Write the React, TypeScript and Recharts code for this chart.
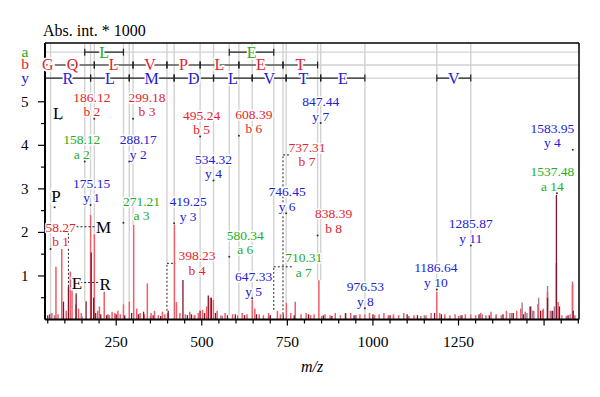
import React from "react";
import {
  ComposedChart,
  ErrorBar,
  ReferenceDot,
  ReferenceLine,
  Scatter,
  XAxis,
  YAxis,
} from "recharts";

const FONT = "'Liberation Serif', 'Times New Roman', serif";
const RED = "#e3232b";
const BLUE = "#2121d3";
const GREEN = "#22ad22";
const GRAY = "#d2d2d2";
const INK = "#222";

const X_MIN = 42;
const X_MAX = 1602;
const Y_MAX = 6.35;
const ROW_A = 6.14;
const ROW_B = 5.845;
const ROW_Y = 5.545;

const xTicks = [
  50, 100, 150, 200, 250, 300, 350, 400, 450, 500, 550, 600, 650, 700, 750, 800,
  850, 900, 950, 1000, 1050, 1100, 1150, 1200, 1250, 1300, 1350, 1400, 1450, 1500,
  1550, 1600,
];
const xTickLabels = [250, 500, 750, 1000, 1250];
const yTicks = [0.5, 1, 1.5, 2, 2.5, 3, 3.5, 4, 4.5, 5];
const yTickLabels = [1, 2, 3, 4, 5];

// spectrum peaks, [m/z, intensity * 1000]
const redPeaks: [number, number][] = [
  [62, 0.15], [74, 1.21], [80, 0.12], [91, 1.62], [104, 0.2], [116, 1.1], [121, 0.75],
  [132, 0.35], [140, 0.25], [148, 0.15], [175.15, 2.4], [186.12, 1.96], [196, 0.2],
  [201, 0.3], [215, 0.87], [226, 0.12], [238, 0.18], [246, 0.15], [255, 0.2], [262, 0.12],
  [271.21, 0.35], [288.17, 0.41], [301, 2.17], [310, 0.25], [320, 0.15], [332, 0.12],
  [341, 0.83], [352, 0.15], [362, 0.2], [373, 0.1], [385, 0.18], [392, 0.12], [400, 0.15],
  [420, 2.17], [426, 0.4], [436, 0.15], [452, 0.12], [465, 0.18], [478, 0.1], [490, 0.15],
  [502, 0.22], [514, 0.3], [525, 0.5], [534, 0.45], [545, 0.2], [556, 0.1], [568, 0.15],
  [590, 0.12], [605, 0.1], [618, 0.15], [632, 0.12], [647.33, 0.45], [655, 0.25],
  [668, 0.12], [680, 0.1], [695, 0.15], [721, 0.2], [730, 0.12], [747, 0.38], [760, 0.15],
  [773, 0.41], [790, 0.12], [805, 0.15], [818, 0.1], [828, 0.12], [842, 0.9], [860, 0.12],
  [875, 0.1], [890, 0.15], [905, 0.1], [920, 0.12], [935, 0.15], [950, 0.1], [962, 0.12],
  [976.53, 0.12], [990, 0.15], [1005, 0.1], [1018, 0.12], [1032, 0.15], [1045, 0.1],
  [1060, 0.12], [1075, 0.1], [1090, 0.15], [1105, 0.08], [1120, 0.1], [1140, 0.08],
  [1155, 0.1], [1170, 0.15], [1186.64, 0.64], [1195, 0.15], [1210, 0.12], [1225, 0.1],
  [1240, 0.12], [1255, 0.1], [1270, 0.12], [1285.87, 0.12], [1300, 0.1], [1315, 0.15],
  [1330, 0.1], [1345, 0.18], [1360, 0.12], [1375, 0.1], [1390, 0.2], [1405, 0.15],
  [1420, 0.2], [1432, 0.25], [1445, 0.18], [1458, 0.3], [1470, 0.2], [1482, 0.35],
  [1496, 0.22], [1510, 0.63], [1522, 0.2], [1536, 1.3], [1541, 0.4], [1565, 0.08],
  [1583, 0.87], [1590, 0.1],
];

const darkPeaks: [number, number][] = [
  [50, 0.1], [56, 0.12], [96, 0.41], [110.5, 0.75], [133, 0.56], [162, 0.42], [177, 1.54],
  [184, 0.5], [190, 0.15], [205, 0.12], [222, 0.1], [250, 0.12], [275, 0.1], [295, 0.15],
  [315, 0.12], [330, 0.18], [358, 0.1], [380, 0.08], [402, 0.2], [445, 0.91], [458, 0.1],
  [470, 0.12], [495, 0.2], [508, 0.15], [519, 0.55], [528, 0.5], [540, 0.15], [575, 0.1],
  [598, 0.12], [625, 0.1], [660, 0.12], [700, 0.1], [738, 0.12], [770, 0.1], [812, 0.12],
  [855, 0.1], [880, 0.08], [920, 0.15], [945, 0.1], [1000, 0.12], [1050, 0.1], [1100, 0.12],
  [1130, 0.1], [1180, 0.15], [1200, 0.12], [1260, 0.1], [1310, 0.12], [1340, 0.1],
  [1380, 0.12], [1410, 0.15], [1440, 0.12], [1461, 0.3], [1490, 0.2], [1510, 0.5],
  [1525, 0.2], [1536, 2.86], [1545, 0.3], [1570, 0.1], [1585, 0.2],
];

const mauvePeaks: [number, number][] = [
  [70, 0.1], [150, 0.08], [230, 0.1], [350, 0.08], [480, 0.1], [560, 0.08], [700, 0.1],
  [850, 0.08], [950, 0.1], [1060, 0.08], [1150, 0.1], [1250, 0.08], [1320, 0.12],
  [1360, 0.1], [1400, 0.15], [1436, 0.39], [1450, 0.15], [1467, 0.2], [1484, 0.5],
  [1498, 0.25], [1510, 0.77], [1518, 0.2], [1530, 0.3], [1552, 0.1], [1576, 0.12],
  [1583, 0.8],
];

// fragment ions: name, m/z, intensity of the peak below it
const aIons = [
  { ion: "a 2", mz: 158.12, peak: 0.42 },
  { ion: "a 3", mz: 271.21, peak: 0.35 },
  { ion: "a 6", mz: 580.34, peak: 0.1 },
  { ion: "a 7", mz: 710.31, peak: 0.22 },
];
const bIons = [
  { ion: "b 1", mz: 58.27, peak: 0.1 },
  { ion: "b 2", mz: 186.12, peak: 1.96 },
  { ion: "b 3", mz: 299.18, peak: 2.17 },
  { ion: "b 4", mz: 398.23, peak: 0.2 },
  { ion: "b 5", mz: 495.24, peak: 0.15 },
  { ion: "b 6", mz: 608.39, peak: 0.1 },
  { ion: "b 7", mz: 737.31, peak: 0.12 },
  { ion: "b 8", mz: 838.39, peak: 0.9 },
];
const yIons = [
  { ion: "y 1", mz: 175.15, peak: 2.4 },
  { ion: "y 2", mz: 288.17, peak: 0.41 },
  { ion: "y 3", mz: 419.25, peak: 2.17 },
  { ion: "y 4", mz: 534.32, peak: 0.45 },
  { ion: "y 5", mz: 647.33, peak: 0.45 },
  { ion: "y 6", mz: 746.45, peak: 0.38 },
  { ion: "y 7", mz: 847.44, peak: 0.9 },
  { ion: "y 8", mz: 976.53, peak: 0.12 },
  { ion: "y 10", mz: 1186.64, peak: 0.64 },
  { ion: "y 11", mz: 1285.87, peak: 0.12 },
];
const otherIons = [
  { ion: "a 14", mz: 1537.48, color: GREEN },
  { ion: "y 4", mz: 1583.95, color: BLUE },
];

// sequence ladders: [from m/z, to m/z, residue]
const aLadder: [number, number, string][] = [
  [158.12, 271.21, "L"],
  [580.34, 710.31, "E"],
];
const bLadder: [number, number, string][] = [
  [1.01, 58.27, "G"], [58.27, 186.12, "Q"], [186.12, 299.18, "L"], [299.18, 398.23, "V"],
  [398.23, 495.24, "P"], [495.24, 608.39, "L"], [608.39, 737.31, "E"], [737.31, 838.39, "T"],
];
const yLadder: [number, number, string][] = [
  [19.02, 175.15, "R"], [175.15, 288.17, "L"], [288.17, 419.25, "M"], [419.25, 534.32, "D"],
  [534.32, 647.33, "L"], [647.33, 746.45, "V"], [746.45, 847.44, "T"], [847.44, 976.53, "E"],
  [1186.64, 1285.87, "V"],
];

// immonium ions
const immonium = [
  { res: "L", mz: 86.1, peak: 1.62 },
  { res: "P", mz: 70.07, peak: 0.1 },
  { res: "E", mz: 102.05, peak: 0.2 },
  { res: "M", mz: 110.5, peak: 0.75 },
  { res: "R", mz: 133, peak: 0.56 },
];

// where each label sits (by m/z key)
const labelPos: Record<string, { v: number; dx: number; leader?: { v: number; to: number } }> = {
  "58.27": { v: 1.62, dx: 10 },
  "186.12": { v: 4.61, dx: -2.5 },
  "299.18": { v: 4.61, dx: 14 },
  "398.23": { v: 0.97, dx: 30, leader: { v: 1.29, to: 422.5 } },
  "495.24": { v: 4.2, dx: 1.5 },
  "608.39": { v: 4.22, dx: 15 },
  "737.31": { v: 3.46, dx: 24, leader: { v: 3.78, to: 758.8 } },
  "838.39": { v: 1.93, dx: 16 },
  "158.12": { v: 3.63, dx: -3 },
  "271.21": { v: 2.22, dx: 18 },
  "580.34": { v: 1.44, dx: 16 },
  "710.31": { v: 0.93, dx: 30, leader: { v: 1.21, to: 764 } },
  "1537.48": { v: 2.9, dx: -4.6 },
  "175.15": { v: 2.63, dx: 1 },
  "288.17": { v: 3.63, dx: 9 },
  "419.25": { v: 2.21, dx: 14 },
  "534.32": { v: 3.19, dx: 0 },
  "647.33": { v: 0.49, dx: 1.4 },
  "746.45": { v: 2.44, dx: 1 },
  "847.44": { v: 4.51, dx: 0 },
  "976.53": { v: 0.26, dx: 0.5 },
  "1186.64": { v: 0.69, dx: -1 },
  "1285.87": { v: 1.7, dx: 0 },
  "1583.95": { v: 3.9, dx: -20.5 },
};
const immoPos: Record<string, { v: number; dx: number; dy: number; leader?: { v: number; to: number } }> = {
  L: { v: 4.61, dx: -2, dy: 0 },
  P: { v: 2.58, dx: 1.5, dy: -5 },
  E: { v: 0.69, dx: 11.3, dy: 0 },
  M: { v: 2.13, dx: 8.3, dy: 6, leader: { v: 2.13, to: 189 } },
  R: { v: 0.85, dx: 6.7, dy: 7.5, leader: { v: 0.85, to: 198 } },
};

const toSticks = (peaks: [number, number][]) =>
  peaks.map(([mz, h]) => ({ mz, h, err: [h, 0] }));

const halo = {
  stroke: "#fff",
  strokeWidth: 3,
  strokeLinejoin: "round" as const,
  paintOrder: "stroke" as const,
};

function XTick(props: any) {
  const { x, y, payload } = props;
  const v = payload.value;
  const major = v % 250 === 0;
  return (
    <g>
      <line x1={x} x2={x} y1={y} y2={y + (major ? 6 : 4)} stroke="#000" strokeWidth={1.2} />
      {xTickLabels.includes(v) && (
        <text x={x} y={y + 27} textAnchor="middle" fontFamily={FONT} fontSize={15.5} fill="#000">
          {v}
        </text>
      )}
    </g>
  );
}

function YTick(props: any) {
  const { x, y, payload } = props;
  const v = payload.value;
  const major = Number.isInteger(v);
  return (
    <g>
      <line x1={x} x2={x - (major ? 7 : 4)} y1={y} y2={y} stroke="#000" strokeWidth={1.2} />
      {yTickLabels.includes(v) && (
        <text x={x - 16.5} y={y + 5} textAnchor="end" fontFamily={FONT} fontSize={15} fill="#000">
          {v}
        </text>
      )}
    </g>
  );
}

function IonLabel(props: any) {
  const { cx, cy, top, bottom, color, dx, dot } = props;
  return (
    <g>
      <text x={cx + dx} y={cy - 17} textAnchor="middle" fontFamily={FONT} fontSize={13.5} fill={color} style={halo}>
        {top}
      </text>
      <text x={cx + dx} y={cy - 2.5} textAnchor="middle" fontFamily={FONT} fontSize={13.5} fill={color} style={halo}>
        {bottom}
      </text>
      {dot && <circle cx={cx} cy={cy} r={1} fill="#333" />}
    </g>
  );
}

function Letter(props: any) {
  const { cx, cy, text, color, dx = 0, dy = 5.5, size = 16 } = props;
  return (
    <text x={cx + dx} y={cy + dy} textAnchor="middle" fontFamily={FONT} fontSize={size} fill={color} style={{ ...halo, strokeWidth: 3.5 }}>
      {text}
    </text>
  );
}

export default function App() {
  const ladderIons = [
    ...aIons.map((d) => ({ ...d, color: GREEN })),
    ...bIons.map((d) => ({ ...d, color: RED })),
    ...yIons.map((d) => ({ ...d, color: BLUE })),
  ];
  const ladderRows = [
    { key: "a", v: ROW_A, color: GREEN, steps: aLadder },
    { key: "b", v: ROW_B, color: RED, steps: bLadder },
    { key: "y", v: ROW_Y, color: BLUE, steps: yLadder },
  ];
  const clip = (m: number) => Math.max(m, X_MIN);

  return (
    <div style={{ position: "absolute", left: 0, top: 0, width: 600, height: 397, background: "#fff" }}>
      <ComposedChart width={600} height={397} margin={{ top: 43, right: 21, bottom: 47.5, left: 10 }}>
        <XAxis
          type="number"
          dataKey="mz"
          domain={[X_MIN, X_MAX]}
          allowDataOverflow
          ticks={xTicks}
          interval={0}
          tick={(p: any) => <XTick {...p} />}
          tickLine={false}
          tickSize={0}
          tickMargin={0}
          height={30}
          axisLine={{ stroke: "#000", strokeWidth: 2 }}
          label={{
            content: (p: any) => (
              <text
                x={p.viewBox.x + p.viewBox.width / 2}
                y={p.viewBox.y + 52.5}
                textAnchor="middle"
                fontFamily={FONT}
                fontStyle="italic"
                fontSize={16}
                fill="#000"
              >
                m/z
              </text>
            ),
          }}
        />
        <YAxis
          type="number"
          dataKey="h"
          domain={[0, Y_MAX]}
          allowDataOverflow
          ticks={yTicks}
          interval={0}
          tick={(p: any) => <YTick {...p} />}
          tickLine={false}
          tickSize={0}
          tickMargin={0}
          width={35}
          axisLine={{ stroke: "#000", strokeWidth: 2 }}
          label={{
            content: (p: any) => (
              <text x={p.viewBox.x + 33} y={p.viewBox.y - 7} fontFamily={FONT} fontSize={16} fill="#000">
                Abs. int. * 1000
              </text>
            ),
          }}
        />

        {/* ladder row guides */}
        {ladderRows.map((r) => (
          <ReferenceLine key={"row" + r.key} y={r.v} stroke={GRAY} strokeWidth={1.3} />
        ))}

        {/* gray ion lines */}
        {ladderIons.map((d) => {
          const pos = labelPos[d.mz.toFixed(2)];
          const bottom = pos.leader ? pos.leader.v : d.peak;
          return (
            <ReferenceLine
              key={"g" + d.ion}
              segment={[{ x: d.mz, y: Y_MAX }, { x: d.mz, y: bottom }]}
              stroke={GRAY}
              strokeWidth={1.4}
            />
          );
        })}

        {/* spectrum */}
        <Scatter data={toSticks(mauvePeaks)} dataKey="h" shape={() => <g />} isAnimationActive={false}>
          <ErrorBar dataKey="err" direction="y" width={0} stroke="#a07c98" strokeWidth={1.4} isAnimationActive={false} />
        </Scatter>
        <Scatter data={toSticks(redPeaks)} dataKey="h" shape={() => <g />} isAnimationActive={false}>
          <ErrorBar dataKey="err" direction="y" width={0} stroke="#ef5d66" strokeWidth={1.5} isAnimationActive={false} />
        </Scatter>
        <Scatter data={toSticks(darkPeaks)} dataKey="h" shape={() => <g />} isAnimationActive={false}>
          <ErrorBar dataKey="err" direction="y" width={0} stroke="#7f1530" strokeWidth={1.3} isAnimationActive={false} />
        </Scatter>

        {/* dotted leaders */}
        {ladderIons
          .filter((d) => labelPos[d.mz.toFixed(2)].leader)
          .flatMap((d) => {
            const l = labelPos[d.mz.toFixed(2)].leader!;
            return [
              <ReferenceLine key={"lv" + d.ion} segment={[{ x: d.mz, y: d.peak }, { x: d.mz, y: l.v }]} stroke={INK} strokeDasharray="2 2" strokeWidth={1} />,
              <ReferenceLine key={"lh" + d.ion} segment={[{ x: d.mz, y: l.v }, { x: l.to, y: l.v }]} stroke={INK} strokeDasharray="2 2" strokeWidth={1} />,
            ];
          })}
        {immonium
          .filter((d) => immoPos[d.res].leader)
          .flatMap((d) => {
            const l = immoPos[d.res].leader!;
            return [
              <ReferenceLine key={"iv" + d.res} segment={[{ x: d.mz, y: d.peak }, { x: d.mz, y: l.v }]} stroke={INK} strokeDasharray="2 2" strokeWidth={1} />,
              <ReferenceLine key={"ih" + d.res} segment={[{ x: d.mz, y: l.v }, { x: l.to, y: l.v }]} stroke={INK} strokeDasharray="2 2" strokeWidth={1} />,
            ];
          })}

        {/* sequence ladders */}
        {ladderRows.flatMap((r) =>
          r.steps.flatMap(([from, to]) => [
            <ReferenceLine key={`s${r.key}${from}`} segment={[{ x: clip(from), y: r.v }, { x: to, y: r.v }]} stroke={INK} strokeWidth={1.2} />,
            <ReferenceLine key={`t1${r.key}${from}`} segment={[{ x: clip(from), y: r.v - 0.08 }, { x: clip(from), y: r.v + 0.08 }]} stroke={INK} strokeWidth={1.2} />,
            <ReferenceLine key={`t2${r.key}${from}`} segment={[{ x: to, y: r.v - 0.08 }, { x: to, y: r.v + 0.08 }]} stroke={INK} strokeWidth={1.2} />,
          ])
        )}
        {ladderRows.flatMap((r) =>
          r.steps.map(([from, to, res]) => (
            <ReferenceDot
              key={`l${r.key}${from}`}
              x={(clip(from) + to) / 2}
              y={r.v}
              r={1}
              ifOverflow="visible"
              shape={(p: any) => <Letter cx={p.cx} cy={p.cy} text={res} color={r.color} />}
            />
          ))
        )}
        {ladderRows.map((r) => (
          <ReferenceDot
            key={"side" + r.key}
            x={X_MIN}
            y={r.v}
            r={1}
            ifOverflow="visible"
            shape={(p: any) => <Letter cx={p.cx} cy={p.cy} text={r.key} color={r.color} dx={-20} dy={4.5} size={15.5} />}
          />
        ))}

        {/* frame */}
        <ReferenceLine y={Y_MAX} stroke="#000" strokeWidth={1.5} />
        <ReferenceLine x={X_MAX} stroke="#000" strokeWidth={1.5} />

        {/* ion labels */}
        {[...ladderIons, ...otherIons].map((d) => {
          const pos = labelPos[d.mz.toFixed(2)];
          return (
            <ReferenceDot
              key={"lab" + d.mz}
              x={d.mz}
              y={pos.v}
              r={1}
              ifOverflow="visible"
              shape={(p: any) => (
                <IonLabel cx={p.cx} cy={p.cy} top={d.mz.toFixed(2)} bottom={d.ion} color={d.color} dx={pos.dx} dot={!pos.leader} />
              )}
            />
          );
        })}
        {immonium.map((d) => {
          const pos = immoPos[d.res];
          return (
            <ReferenceDot
              key={"imm" + d.res}
              x={pos.leader ? pos.leader.to : d.mz}
              y={pos.v}
              r={1}
              ifOverflow="visible"
              shape={(p: any) => (
                <g>
                  <Letter cx={p.cx} cy={p.cy} text={d.res} color="#000" dx={pos.dx} dy={pos.dy} size={17} />
                  {!pos.leader && d.res !== "E" && <circle cx={p.cx} cy={p.cy} r={1} fill="#333" />}
                </g>
              )}
            />
          );
        })}
      </ComposedChart>
    </div>
  );
}
